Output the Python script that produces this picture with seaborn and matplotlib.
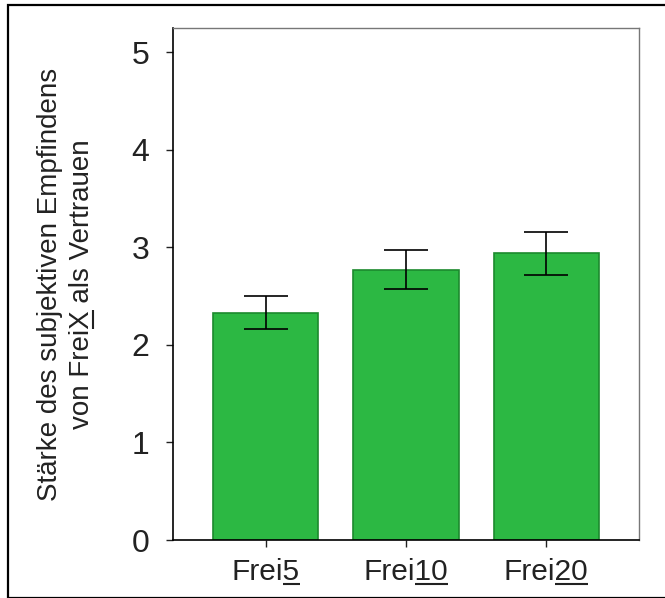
import matplotlib
matplotlib.use("Agg")
import matplotlib.pyplot as plt
import seaborn as sns
import pandas as pd
from matplotlib.patches import Rectangle
from matplotlib.lines import Line2D

# Conditions: a plain prefix plus an underlined suffix
prefixes = ["Frei", "Frei", "Frei"]
suffixes = ["5", "10", "20"]
means = [2.33, 2.77, 2.94]
errors = [0.17, 0.20, 0.22]
yticks = [0, 1, 2, 3, 4, 5]
ylabel_line1 = "Stärke des subjektiven Empfindens"
ylabel_line2 = ("von Frei", "X", " als Vertrauen")

sns.set_theme(style="white")
plt.rcParams["font.family"] = ["Liberation Sans", "DejaVu Sans"]

conditions = [p + s for p, s in zip(prefixes, suffixes)]
df = pd.DataFrame({"cond": conditions, "mean": means, "err": errors})

fig = plt.figure(figsize=(6.65, 5.98), dpi=100)
ax = fig.add_axes([173 / 665, 1 - 540 / 598, (639 - 173) / 665, (540 - 28) / 598])

sns.barplot(data=df, x="cond", y="mean", color="#2cb843", saturation=1,
            width=0.75, errorbar=None, edgecolor="#1c8a2e", linewidth=1.2, ax=ax)
ax.errorbar(range(len(means)), df["mean"], yerr=df["err"], fmt="none",
            ecolor="black", elinewidth=1.2, capsize=16, capthick=1.2, zorder=5)

ax.set_xlim(-0.664, 2.664)
ax.set_ylim(0, 5.25)
ax.set_yticks(yticks)
ax.set_yticklabels([str(t) for t in yticks])
ax.set_xlabel("")
ax.set_ylabel(ylabel_line1 + "\n" + "".join(ylabel_line2),
              fontsize=20, labelpad=26, color="#222222", linespacing=1.3)

ax.tick_params(axis="y", which="major", direction="out", length=5, width=1,
               labelsize=23, pad=12, colors="#222222", left=True)
ax.tick_params(axis="x", which="major", direction="out", length=5, width=1,
               labelsize=21.5, pad=8, colors="#222222", bottom=True)

for side in ["left", "bottom"]:
    ax.spines[side].set_color("black")
    ax.spines[side].set_linewidth(1.2)
for side in ["top", "right"]:
    ax.spines[side].set_color("#777777")
    ax.spines[side].set_linewidth(1.0)

# Outer frame around the whole figure
fig.patches.append(Rectangle((8 / 665, 0), 1.0, 1 - 5 / 598, transform=fig.transFigure,
                             fill=False, edgecolor="black", linewidth=1.6))

# Underline the numeric part of each tick label and the X in the axis label
fig.canvas.draw()
renderer = fig.canvas.get_renderer()
to_fig = fig.transFigure.inverted()


def text_width(s, prop):
    w, _, _ = renderer.get_text_width_height_descent(s, prop, ismath=False)
    return w


def add_segment(p0, p1):
    (x0, y0), (x1, y1) = to_fig.transform([p0, p1])
    fig.add_artist(Line2D([x0, x1], [y0, y1], transform=fig.transFigure,
                          color="#222222", linewidth=1.5, solid_capstyle="butt"))


for lbl, pre, suf in zip(ax.get_xticklabels(), prefixes, suffixes):
    prop = lbl.get_fontproperties()
    bb = lbl.get_window_extent(renderer)
    _, _, d = renderer.get_text_width_height_descent("lp", prop, ismath=False)
    start = bb.x0 + text_width(pre, prop)
    end = bb.x0 + text_width(pre + suf, prop)
    y = bb.y0 + d * 0.35
    add_segment((start, y), (end, y))

ylab = ax.yaxis.label
prop = ylab.get_fontproperties()
bb = ylab.get_window_extent(renderer)
_, _, d = renderer.get_text_width_height_descent("lp", prop, ismath=False)
line2 = "".join(ylabel_line2)
base = (bb.y0 + bb.y1) / 2 - text_width(line2, prop) / 2
ys = base + text_width(ylabel_line2[0], prop)
ye = base + text_width(ylabel_line2[0] + ylabel_line2[1], prop)
x = bb.x1 - d * 0.35
add_segment((x, ys), (x, ye))

fig.savefig("out.png", dpi=100)
